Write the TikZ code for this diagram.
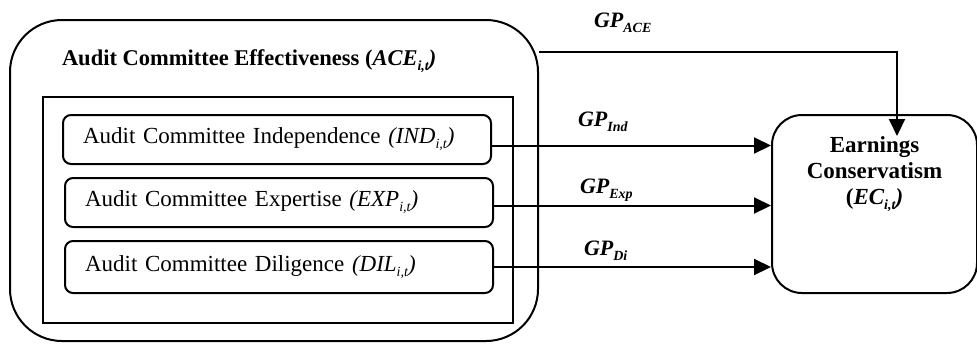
\documentclass[tikz,border=0pt]{standalone}
\usepackage{fontspec}
\setmainfont{Liberation Serif}
\usetikzlibrary{arrows.meta,positioning}

\newcommand{\lowsub}[1]{\raisebox{-2.5pt}{\fontsize{7}{8}\selectfont #1}}

\begin{document}
\begin{tikzpicture}[x=0.5pt,y=-0.5pt,
                    line width=1pt,
                    box/.style={draw, rounded corners=4pt, minimum width=214pt, minimum height=24.5pt,
                                text width=194pt, align=left, inner xsep=10pt,
                                font=\fontsize{11.5}{13}\selectfont},
                    arr/.style={-{Triangle[length=8.5pt,width=8pt]}},
                    gp/.style={anchor=base west, inner sep=0pt,
                               font=\fontsize{11}{13}\selectfont\bfseries\itshape}]
    \useasboundingbox (0,0) rectangle (977,343);
    % frames
    \node[draw, rounded corners=26pt, minimum width=264pt, minimum height=160.5pt] (ace) at (274,180.5) {};
    \node[draw, minimum width=235pt, minimum height=113pt] (group) at (278,210) {};
    \node[anchor=base west, inner sep=0pt, font=\fontsize{11.25}{13}\selectfont\bfseries] (acetitle) at (61,65)
        {Audit Committee Effectiveness (\textit{ACE\lowsub{i,t})}};
    % dimensions
    \node[box] (ind) at (277,139.5) {Audit Committee Independence \textit{(IND\lowsub{i,t})}};
    \node[box] (exp) at (279,202.5) {Audit Committee Expertise \textit{(EXP\lowsub{i,t})}};
    \node[box, minimum height=26pt] (dil) at (279,267) {Audit Committee Diligence \textit{(DIL\lowsub{i,t})}};
    % outcome
    \node[draw, rounded corners=15pt, minimum width=102.5pt, minimum height=89pt] (ec) at (874.5,204) {};
    \node[anchor=north, align=center, font=\fontsize{11.5}{13}\selectfont\bfseries] (ectext)
        at ([yshift=-7.5pt]ec.north) {Earnings\\Conservatism\\(\textit{EC\lowsub{i,t})}};
    % paths
    \coordinate (acebend) at (897,52);
    \draw[arr] (ace.east |- acebend) -- (acebend) -- ([yshift=-11pt]acebend |- ec.north);
    \draw[arr] ([yshift=-3pt]ind.east) coordinate (indout) -- (indout -| ec.west);
    \draw[arr] ([yshift=-1.5pt]exp.east) coordinate (expout) -- (expout -| ec.west);
    \draw[arr] (dil.east) coordinate (dilout) -- (dilout -| ec.west);
    % labels
    \node[gp] (gpace) at (593,27) {GP\lowsub{ACE}};
    \node[gp] (gpind) at (577,126) {GP\lowsub{Ind}};
    \node[gp] (gpexp) at (579,193) {GP\lowsub{Exp}};
    \node[gp] (gpdil) at (583,255) {GP\lowsub{Di}};
\end{tikzpicture}
\end{document}
